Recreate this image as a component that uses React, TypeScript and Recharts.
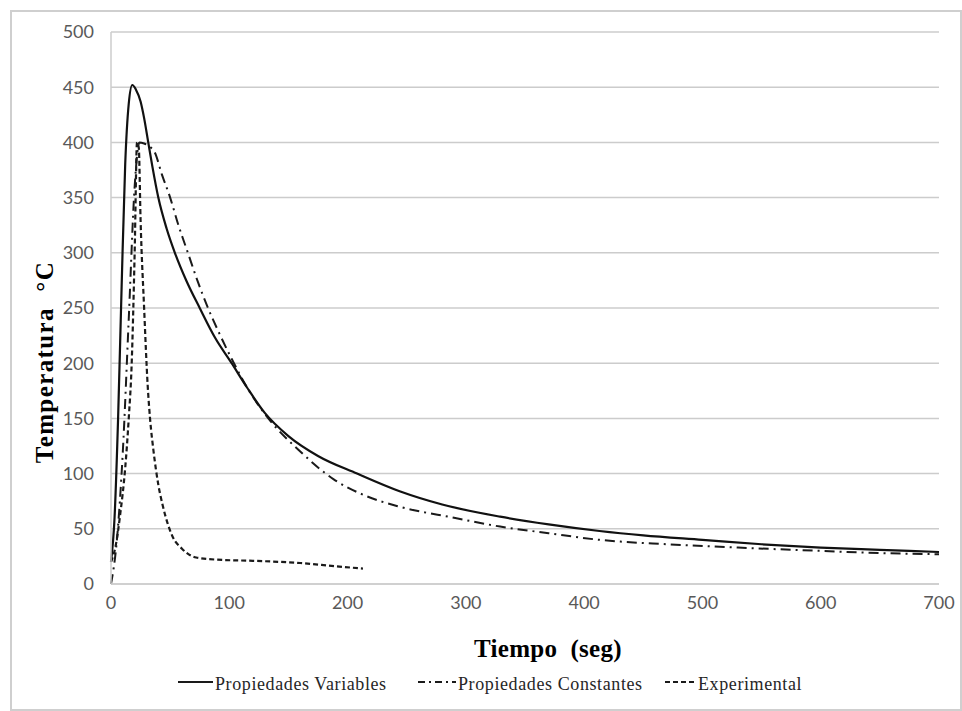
import React from 'react';
import { LineChart, Line, XAxis, YAxis, CartesianGrid, Label } from 'recharts';

// Propiedades Variables (t in s, T in °C)
const variableT = [0, 3, 6, 9, 12, 15, 18, 21, 25, 28, 31.5, 35, 40, 47, 54, 64, 75, 88, 102, 115, 130, 150, 175, 208, 244, 280, 329, 370, 413, 450, 500, 550, 600, 650, 700];
const variableTemp = [20, 60, 150, 270, 380, 435, 452, 448, 437, 422, 400, 378, 350, 322, 300, 274, 250, 223, 200, 178, 155, 134, 116, 100, 84, 72, 61, 54, 48, 44, 40, 36, 33, 31, 29];

// Propiedades Constantes
const constantT = [0, 5, 10, 15, 20, 24, 28, 33, 37, 43, 50, 57, 65, 73, 82, 92, 102, 115, 133, 160, 188, 215, 244, 290, 329, 370, 413, 470, 530, 600, 650, 700];
const constantTemp = [0, 40, 120, 240, 360, 400, 399, 396, 391, 371, 350, 325, 300, 275, 250, 226, 204, 178, 150, 120, 95, 80, 70, 60, 52, 46, 40, 36, 33, 30, 28, 27];

// Experimental
const expT = [0, 4, 8, 12, 15, 17.5, 20, 22, 23.5, 25, 28, 31, 33, 36, 40, 44, 52, 60, 72, 90, 120, 160, 190, 213];
const expTemp = [20, 35, 65, 105, 150, 200, 300, 400, 395, 330, 250, 180, 150, 120, 90, 70, 43, 32, 24, 22, 21, 19, 16, 14];

const xTicks = [0, 100, 200, 300, 400, 500, 600, 700];
const yTicks = [0, 50, 100, 150, 200, 250, 300, 350, 400, 450, 500];

const seriesNames = ['Propiedades Variables', 'Propiedades Constantes', 'Experimental'];

const toRows = (ts: number[], vals: number[]) => ts.map((t, i) => ({ t, T: vals[i] }));

const variableData = toRows(variableT, variableTemp);
const constantData = toRows(constantT, constantTemp);
const expData = toRows(expT, expTemp);

const tickStyle = { fontFamily: 'Lato, sans-serif', fontSize: 18, fill: '#595959' };
const titleFont = '"Liberation Serif", "Times New Roman", serif';

const LegendRow = () => {
    const items = [
        { name: seriesNames[0], dash: undefined, x: 178, w: 35 },
        { name: seriesNames[1], dash: '7 4 2 4', x: 418, w: 38 },
        { name: seriesNames[2], dash: '5 3', x: 665, w: 31 },
    ];
    return (
        <g>
            {items.map((it) => (
                <g key={it.name}>
                    <line x1={it.x} x2={it.x + it.w} y1={682} y2={682} stroke="#1a1a1a" strokeWidth={2} strokeDasharray={it.dash} />
                    <text x={it.x + it.w + 2} y={690} fontFamily={titleFont} fontSize={18} letterSpacing={0.6} fill="#262626">{it.name}</text>
                </g>
            ))}
        </g>
    );
};

export default function App() {
    return (
        <div style={{ position: 'absolute', left: 0, top: 0, width: 962, height: 711, background: '#fff' }}>
            <div style={{ position: 'absolute', left: 10, top: 10, width: 948, height: 697, border: '2px solid #cfcfcf' }} />
            <div style={{ position: 'absolute', left: 0, top: 0 }}>
                <LineChart width={962} height={711} margin={{ top: 32, right: 23, bottom: 97, left: 0 }}>
                    <CartesianGrid vertical={false} stroke="#cccccc" strokeWidth={1.5} />
                    <XAxis
                        type="number"
                        dataKey="t"
                        domain={[0, 700]}
                        ticks={xTicks}
                        tick={tickStyle}
                        tickLine={false}
                        tickMargin={6}
                        stroke="#cccccc"
                        strokeWidth={1.5}
                        height={30}
                    >
                        <Label
                            content={() => (
                                <text x={548} y={657} textAnchor="middle" fontFamily={titleFont} fontWeight="bold" fontSize={25} letterSpacing={0.3} fill="#000">
                                    {'Tiempo\u00A0\u00A0(seg)'}
                                </text>
                            )}
                        />
                    </XAxis>
                    <YAxis
                        type="number"
                        dataKey="T"
                        domain={[0, 500]}
                        ticks={yTicks}
                        tick={tickStyle}
                        tickLine={false}
                        tickMargin={11}
                        width={111}
                        stroke="#cccccc"
                        strokeWidth={1.5}
                    >
                        <Label
                            content={() => (
                                <text
                                    x={53}
                                    y={362}
                                    transform="rotate(-90 53 362)"
                                    textAnchor="middle"
                                    fontFamily={titleFont}
                                    fontWeight="bold"
                                    fontSize={25}
                                    letterSpacing={1.4}
                                    fill="#000"
                                >
                                    {'Temperatura\u00A0\u00A0°C'}
                                </text>
                            )}
                        />
                    </YAxis>
                    <Line data={expData} dataKey="T" name={seriesNames[2]} type="monotone" stroke="#1a1a1a" strokeWidth={2.2} strokeDasharray="5 3" dot={false} isAnimationActive={false} />
                    <Line data={constantData} dataKey="T" name={seriesNames[1]} type="monotone" stroke="#1a1a1a" strokeWidth={2} strokeDasharray="10 5 2 5" dot={false} isAnimationActive={false} />
                    <Line data={variableData} dataKey="T" name={seriesNames[0]} type="monotone" stroke="#111" strokeWidth={2.2} dot={false} isAnimationActive={false} />
                    <LegendRow />
                </LineChart>
            </div>
        </div>
    );
}
